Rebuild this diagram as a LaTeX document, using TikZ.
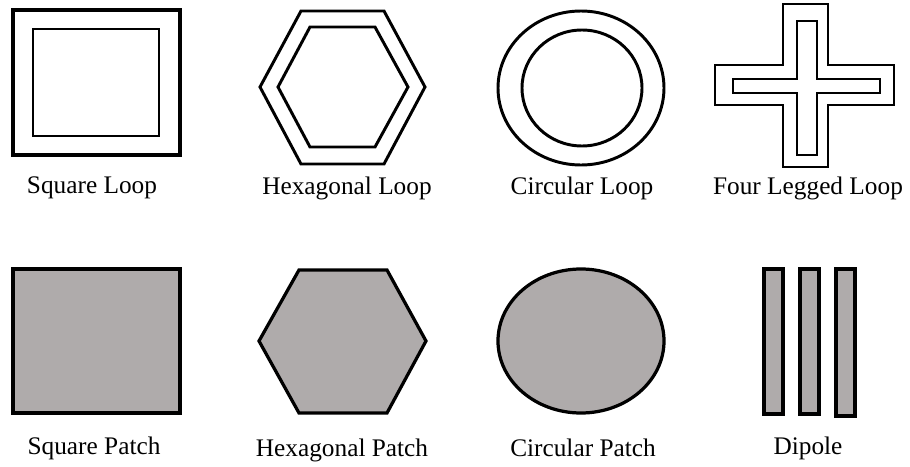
\documentclass[tikz,border=0pt]{standalone}
\usepackage{fontspec}
\setmainfont{Liberation Serif}
\definecolor{patchGray}{RGB}{175,171,171}
\begin{document}
\begin{tikzpicture}[
    x=0.025cm, y=-0.025cm,
    fssLoop/.style={draw, line width=2.1pt, line join=miter},
    fssThick/.style={draw, line width=2.7pt, line join=miter},
    fssPatch/.style={draw, fill=patchGray, line width=2.3pt, line join=miter},
    fssLabel/.style={font=\fontsize{18}{20}\selectfont, inner sep=0pt}
]
\useasboundingbox (0,0) rectangle (910,467);
% first row: loops
\draw[fssThick] (13,10) rectangle (180,155);
\draw[fssLoop] (33,29) rectangle (159,136);
\node[fssLabel] (sqLoop) at (92,188) {Square Loop};

\draw[fssLoop] (260,87) -- (301,11) -- (384,11) -- (425,87) -- (384,164) -- (301,164) -- cycle;
\draw[fssLoop] (278,87) -- (310,27) -- (375,27) -- (408,87) -- (375,147) -- (310,147) -- cycle;
\node[fssLabel] (hexLoop) at (347,188) {Hexagonal Loop};

\draw[fssLoop] (581,88) ellipse [x radius=83, y radius=77];
\draw[fssLoop] (582,88) ellipse [x radius=60, y radius=58];
\node[fssLabel] (circLoop) at (582,188) {Circular Loop};

\draw[fssLoop] (783,4) -- (828,4) -- (828,65) -- (894,65) -- (894,105) -- (828,105)
    -- (828,167) -- (783,167) -- (783,105) -- (715,105) -- (715,65) -- (783,65) -- cycle;
\draw[fssLoop] (797,21) -- (817,21) -- (817,79) -- (880,79) -- (880,93) -- (817,93)
    -- (817,155) -- (797,155) -- (797,93) -- (733,93) -- (733,79) -- (797,79) -- cycle;
\node[fssLabel] (crossLoop) at (808,188) {Four Legged Loop};

% second row: patches
\draw[fssPatch] (13,269) rectangle (180,413);
\node[fssLabel] (sqPatch) at (94,448) {Square Patch};

\draw[fssPatch] (259,341) -- (299,270) -- (387,270) -- (426,341) -- (387,413) -- (299,413) -- cycle;
\node[fssLabel] (hexPatch) at (342,450) {Hexagonal Patch};

\draw[fssPatch] (581,341) ellipse [x radius=83, y radius=72];
\node[fssLabel] (circPatch) at (583,448) {Circular Patch};

\foreach \xl/\yb in {764/414, 800/414, 836/416}
    \draw[fssPatch] (\xl,269) rectangle (\xl+19,\yb);
\node[fssLabel] (dipole) at (808,448) {Dipole};
\end{tikzpicture}
\end{document}
